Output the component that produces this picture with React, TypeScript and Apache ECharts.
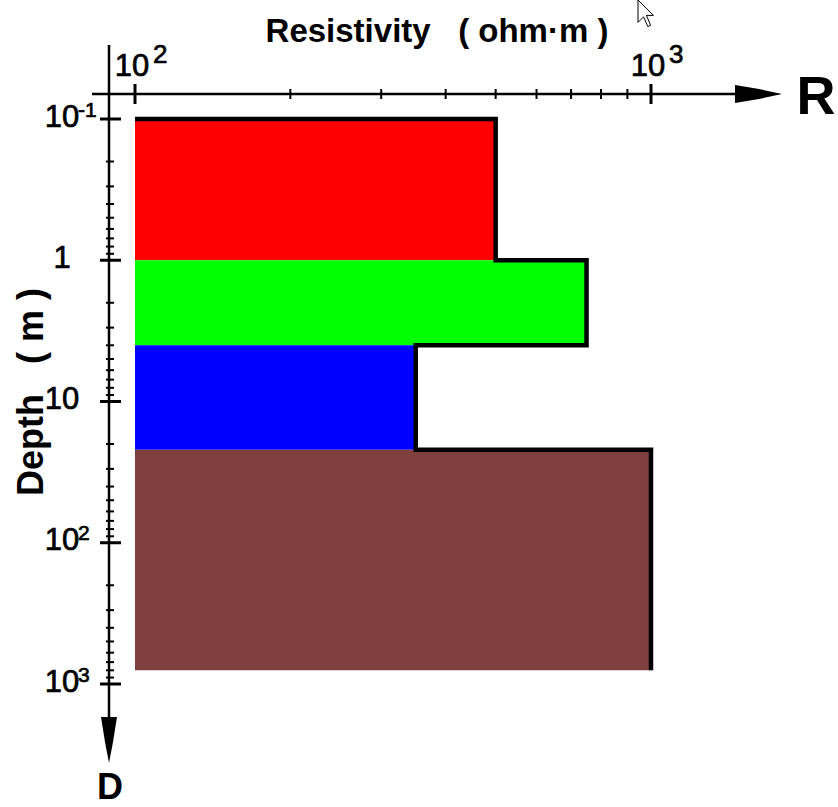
import React, { useEffect, useRef } from "react";
import * as echarts from "echarts";

// ---- data ----
const layerTop = [0.1, 1, 4, 22];
const layerBottom = [1, 4, 22, 800];
const resistivity = [500, 750, 350, 1000];
const layerColors = ["#ff0000", "#00ff00", "#0000ff", "#804040"];

const X_MIN = 100;
const X_MAX = 1000;
const Y_MIN = 0.1;
const Y_MAX = 1000;

const xMajorTicks = [100, 1000];
const xMinorTicks = [200, 300, 400, 500, 600, 700, 800, 900];
const yMajorTicks = [0.1, 1, 10, 100, 1000];
const yMinorMultipliers = [2, 3, 4, 5, 6, 7, 8, 9];
const yMinorDecades = [0.1, 1, 10, 100];

const titleText = "Resistivity   ( ohm·m )";
const depthText = "Depth   ( m )";

const FONT = 'Arial, "Liberation Sans", sans-serif';

// layout
const GRID_LEFT = 135;
const GRID_TOP = 119;
const GRID_W = 516;
const GRID_H = 565;
const X_OFFSET = 25;
const Y_OFFSET = 26;

function labelParts(v: number): [string, string] {
  const e = Math.round(Math.log10(v));
  if (e === 0) return ["1", ""];
  if (e === 1) return ["10", ""];
  return ["10", String(e)];
}

export default function App() {
  const ref = useRef<HTMLDivElement>(null);
  useEffect(() => {
    const chart = echarts.init(ref.current!, undefined, { renderer: "svg" });
    const outline: number[][] = [[X_MIN, layerTop[0]]];
    resistivity.forEach((r, i) => {
      outline.push([r, layerTop[i]]);
      outline.push([r, layerBottom[i]]);
    });
    chart.setOption({
      animation: false,
      backgroundColor: "#fff",
      grid: { left: GRID_LEFT, top: GRID_TOP, width: GRID_W, height: GRID_H },
      xAxis: {
        type: "log",
        logBase: 10,
        min: X_MIN,
        max: X_MAX,
        position: "top",
        offset: X_OFFSET,
        axisLine: { show: false },
        axisTick: { show: false },
        splitLine: { show: false },
        axisLabel: { show: false },
      },
      yAxis: {
        type: "log",
        logBase: 10,
        min: Y_MIN,
        max: Y_MAX,
        inverse: true,
        offset: Y_OFFSET,
        axisLine: { show: false },
        axisTick: { show: false },
        splitLine: { show: false },
        axisLabel: { show: false },
      },
      series: [
        {
          type: "custom",
          clip: false,
          data: resistivity.map((r, i) => [r, layerTop[i], layerBottom[i]]),
          encode: { x: 0, y: [1, 2] },
          renderItem: (params: any, api: any) => {
            const p1 = api.coord([X_MIN, api.value(1)]);
            const p2 = api.coord([api.value(0), api.value(2)]);
            return {
              type: "rect",
              shape: { x: p1[0], y: p1[1], width: p2[0] - p1[0], height: p2[1] - p1[1] },
              style: { fill: layerColors[params.dataIndex] },
            };
          },
          z: 1,
        },
        {
          type: "line",
          data: outline,
          symbol: "none",
          clip: false,
          lineStyle: { color: "#000", width: 4.5, join: "miter", cap: "butt" },
          z: 3,
        },
      ],
    });

    const px = (v: number) => chart.convertToPixel({ xAxisIndex: 0 }, v) as number;
    const py = (v: number) => chart.convertToPixel({ yAxisIndex: 0 }, v) as number;
    const axY = py(Y_MIN) - X_OFFSET;
    const axX = px(X_MIN) - Y_OFFSET;
    const xEnd = px(X_MAX);
    const yEnd = py(Y_MAX);
    const g: any[] = [];
    const txt = (x: number, y: number, text: string, font: string, align = "center", extra: any = {}, heavy = false) => ({
      type: "text",
      x,
      y,
      ...extra,
      style: {
        text,
        font,
        fill: "#000",
        align,
        verticalAlign: "middle",
        ...(heavy ? { stroke: "#000", lineWidth: 0.7 } : {}),
      },
    });
    // axis lines
    g.push({ type: "line", shape: { x1: axX - 17, y1: axY, x2: xEnd + 90, y2: axY }, style: { stroke: "#000", lineWidth: 2.5 } });
    g.push({ type: "line", shape: { x1: axX, y1: axY - 49, x2: axX, y2: yEnd + 40 }, style: { stroke: "#000", lineWidth: 2.5 } });
    // arrows
    g.push({
      type: "polygon",
      shape: { points: [[xEnd + 84, axY - 9], [xEnd + 108, axY - 5], [xEnd + 131, axY], [xEnd + 108, axY + 5], [xEnd + 84, axY + 9]] },
      style: { fill: "#000" },
    });
    g.push({
      type: "polygon",
      shape: { points: [[axX - 8, yEnd + 33], [axX - 4, yEnd + 58], [axX, yEnd + 79], [axX + 4, yEnd + 58], [axX + 8, yEnd + 33]] },
      style: { fill: "#000" },
    });
    // x ticks + labels
    xMajorTicks.forEach((v) => {
      const x = px(v);
      g.push({ type: "line", shape: { x1: x, y1: axY - 10, x2: x, y2: axY + 10 }, style: { stroke: "#000", lineWidth: 3 } });
      const [base, sup] = labelParts(v);
      g.push(txt(x - 3, axY - 29, base, `31px ${FONT}`, "center", {}, true));
      if (sup) g.push(txt(x + 18, axY - 40, sup, `26px ${FONT}`, "left", {}, true));
    });
    xMinorTicks.forEach((v) => {
      const x = px(v);
      g.push({ type: "line", shape: { x1: x, y1: axY - 5, x2: x, y2: axY + 5 }, style: { stroke: "#000", lineWidth: 2 } });
    });
    // y ticks + labels
    yMajorTicks.forEach((v) => {
      const y = py(v);
      g.push({ type: "line", shape: { x1: axX - 9, y1: y, x2: axX + 12, y2: y }, style: { stroke: "#000", lineWidth: 3 } });
      const [base, sup] = labelParts(v);
      g.push(txt(axX - 47, y - 3, base, `31px ${FONT}`, "center", {}, true));
      if (sup) g.push(txt(axX - 31, y - 10, sup, `21px ${FONT}`, "left", {}, true));
    });
    yMinorDecades.forEach((d) => {
      yMinorMultipliers.forEach((m) => {
        const y = py(d * m);
        g.push({ type: "line", shape: { x1: axX - 3, y1: y, x2: axX + 5, y2: y }, style: { stroke: "#000", lineWidth: 2 } });
      });
    });
    // titles
    g.push(txt(437, 30, titleText, `bold 33px ${FONT}`));
    g.push(txt(816, 95, "R", `bold 54px ${FONT}`));
    g.push(txt(axX + 1, 786, "D", `bold 36px ${FONT}`));
    g.push(txt(30, 392, depthText, `bold 36px ${FONT}`, "center", { rotation: Math.PI / 2 }));
    // mouse cursor
    const cx = 638, cy = 0, k = 1.4;
    const cur = [[0, 0], [0, 16], [4, 12], [7, 19], [9, 18], [6, 11], [11, 11]].map(([a, b]) => [cx + a * k, cy + b * k]);
    g.push({ type: "polygon", shape: { points: cur }, style: { fill: "#fff", stroke: "#000", lineWidth: 1 } });

    chart.setOption({ graphic: g });
    return () => chart.dispose();
  }, []);
  return <div ref={ref} style={{ position: "fixed", left: 0, top: 0, width: 838, height: 807 }} />;
}
